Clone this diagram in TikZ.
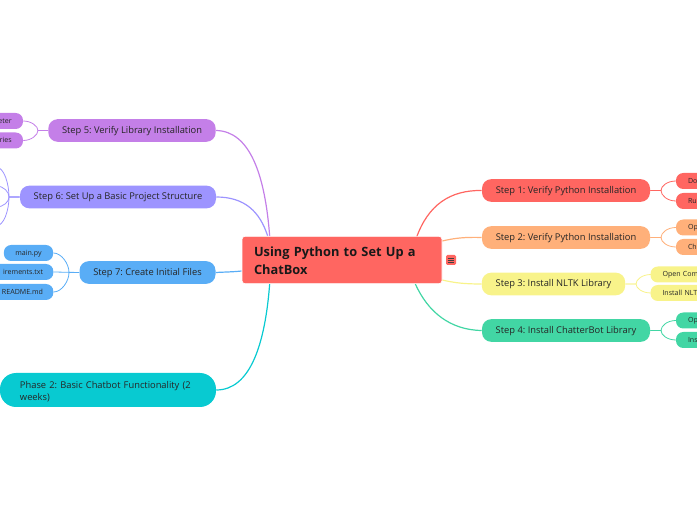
\documentclass[tikz,border=0pt]{standalone}
\usepackage{fontspec}
\setmainfont{Open Sans}
\usepackage{xcolor}
\usetikzlibrary{positioning,calc,backgrounds}
\definecolor{cRed}{HTML}{FF6661}
\definecolor{cOrange}{HTML}{FFB07A}
\definecolor{cYellow}{HTML}{F8F38A}
\definecolor{cGreen}{HTML}{42D6A4}
\definecolor{cPurple}{HTML}{C47FE8}
\definecolor{cViolet}{HTML}{9D94FF}
\definecolor{cBlue}{HTML}{59ADF6}
\definecolor{cTeal}{HTML}{08CAD1}

\begin{document}
\frenchspacing
\begin{tikzpicture}[
    x=0.75pt, y=-0.75pt,
    root/.style={rectangle, rounded corners=2.2pt, fill=cRed, draw=white, line width=0.5pt, minimum width=150pt, text width=132pt, align=left, inner sep=0pt, minimum height=35.5pt, font=\fontsize{9.6}{13.5}\selectfont\bfseries, text=black!90, text height=8.8pt},
    branch/.style={rectangle, rounded corners=7pt, minimum height=17pt, inner sep=0pt, font=\fontsize{7}{9}\selectfont, text=black!85, text height=5pt, text depth=0.6pt},
    leaf/.style={rectangle, rounded corners=5.5pt, minimum height=12pt, inner sep=0pt, font=\fontsize{5.3}{7}\selectfont, text=black!85, text height=3.8pt, text depth=0.5pt},
    link/.style={line width=0.9pt},
    sublink/.style={line width=0.6pt}
]
\useasboundingbox (0,0) rectangle (697,520);
\clip (0,0) rectangle (697,520);

% Root
\node[root] (main) at (342,260) {Using Python to Set Up a ChatBox};
\node[rectangle, rounded corners=1pt, fill=cRed, minimum size=7.5pt, inner sep=0pt] (menu) at (451,260) {};
\foreach \i in {-1.5,0,1.5} {
    \draw[black!75, line width=0.4pt] ($(menu.center)+(-2.6pt,\i pt)$) -- ($(menu.center)+(2.6pt,\i pt)$);
}

% Right branches
\node[branch, fill=cRed, minimum width=126pt] (s1) at (566,190.5) {Step 1: Verify Python Installation};
\node[branch, fill=cOrange, minimum width=126pt] (s2) at (566,237.5) {Step 2: Verify Python Installation};
\node[branch, fill=cYellow, minimum width=107.5pt] (s3) at (553.5,284) {Step 3: Install NLTK Library};
\node[branch, fill=cGreen, minimum width=126pt] (s4) at (566,330.5) {Step 4: Install ChatterBot Library};

% Left branches
\node[branch, fill=cPurple, minimum width=125.5pt] (s5) at (132,130.5) {Step 5: Verify Library Installation};
\node[branch, fill=cViolet, minimum width=147pt] (s6) at (118,197) {Step 6: Set Up a Basic Project Structure};
\node[branch, fill=cBlue, minimum width=102pt] (s7) at (147.5,272.5) {Step 7: Create Initial Files};
\node[branch, fill=cTeal, rounded corners=12pt, minimum width=162pt, minimum height=25.5pt, text width=132pt, align=left, text height=8.5pt, text depth=] (s8) at (108,390) {Phase 2: Basic Chatbot Functionality (2 weeks)};

% Leaves, right side
\foreach \nm/\col/\yy/\txt in {a1/cRed/181/Do, a2/cRed/201/Ru, b1/cOrange/227.5/Op, b2/cOrange/247/Ch, d1/cGreen/320.5/Op, d2/cGreen/340/Ins} {
    \node[leaf, fill=\col, minimum width=45pt, text width=27pt, align=left] (\nm) at (706,\yy) {\txt};
}
\node[leaf, fill=cYellow, minimum width=60pt, text width=42pt, align=left] (c1) at (690.5,274.5) {Open Com};
\node[leaf, fill=cYellow, minimum width=60pt, text width=42pt, align=left] (c2) at (690.5,293) {Install NLT};

% Leaves, left side
\node[leaf, fill=cPurple, minimum width=30pt, text width=13pt, align=right] (e1) at (3,121) {eter};
\node[leaf, fill=cPurple, minimum width=30pt, text width=13pt, align=right] (e2) at (3,140.5) {ries};
\node[leaf, fill=cBlue, minimum width=37pt] (g1) at (28.5,253) {main.py};
\node[leaf, fill=cBlue, minimum width=50pt, text width=34.5pt, align=right] (g2) at (20,272) {irements.txt};
\node[leaf, fill=cBlue, minimum width=50pt, text width=34.5pt, align=right] (g3) at (20,292) {README.md};

% Ends outside the page
\coordinate (f1) at (-4,167);
\coordinate (f2) at (-4,186);
\coordinate (f3) at (-4,207);
\coordinate (f4) at (-4,226);

\begin{scope}[on background layer]
% Curves from the root
\draw[link, cRed] (s1.west) .. controls (450,190) and (428,205) .. ($(main.north east)+(-26,2)$);
\draw[link, cOrange] (s2.west) .. controls (465,237) and (455,238) .. ($(main.east)+(0,-19)$);
\draw[link, cYellow] (s3.west) .. controls (465,284) and (455,283) .. ($(main.east)+(0,20)$);
\draw[link, cGreen] (s4.west) .. controls (450,330) and (428,312) .. ($(main.south east)+(-27,0)$);
\draw[link, cPurple] (s5.east) .. controls (250,131) and (265,175) .. ($(main.north west)+(28,0)$);
\draw[link, cViolet] (s6.east) .. controls (245,197) and (260,212) .. ($(main.north west)+(26,0)$);
\draw[link, cBlue] (s7.east) .. controls (225,272) and (232,272) .. ($(main.west)+(0,11)$);
\draw[link, cTeal] (s8.east) .. controls (250,390) and (265,345) .. ($(main.south west)+(28,0)$);

% Curves to the leaves, right side
\foreach \from/\to/\col/\bx in {s1/a1/cRed/661, s1/a2/cRed/661, s2/b1/cOrange/661, s2/b2/cOrange/661, s3/c1/cYellow/636, s3/c2/cYellow/636, s4/d1/cGreen/661, s4/d2/cGreen/661} {
    \draw[sublink, \col] (\from.east) -- (\bx,0 |- \from.east) .. controls ($(\bx,0 |- \to.west)!0.55!(\bx,0 |- \from.east)$) and ($(\bx,0 |- \to.west)+(6,0)$) .. ($(\bx,0 |- \to.west)+(15,0)$);
}

% Curves to the leaves, left side
\foreach \from/\to/\col/\bx in {s5/e1/cPurple/38, s5/e2/cPurple/38, s7/g1/cBlue/69, s7/g3/cBlue/69, s6/f1/cViolet/9, s6/f2/cViolet/9, s6/f3/cViolet/9, s6/f4/cViolet/9} {
    \draw[sublink, \col] (\from.west) -- (\bx,0 |- \from.west) .. controls ($(\bx,0 |- \to.east)!0.55!(\bx,0 |- \from.west)$) and ($(\to.east)+(8,0)$) .. (\to.east);
}
\draw[sublink, cBlue] (s7.west) -- (g2.east);
\end{scope}
\end{tikzpicture}
\end{document}
